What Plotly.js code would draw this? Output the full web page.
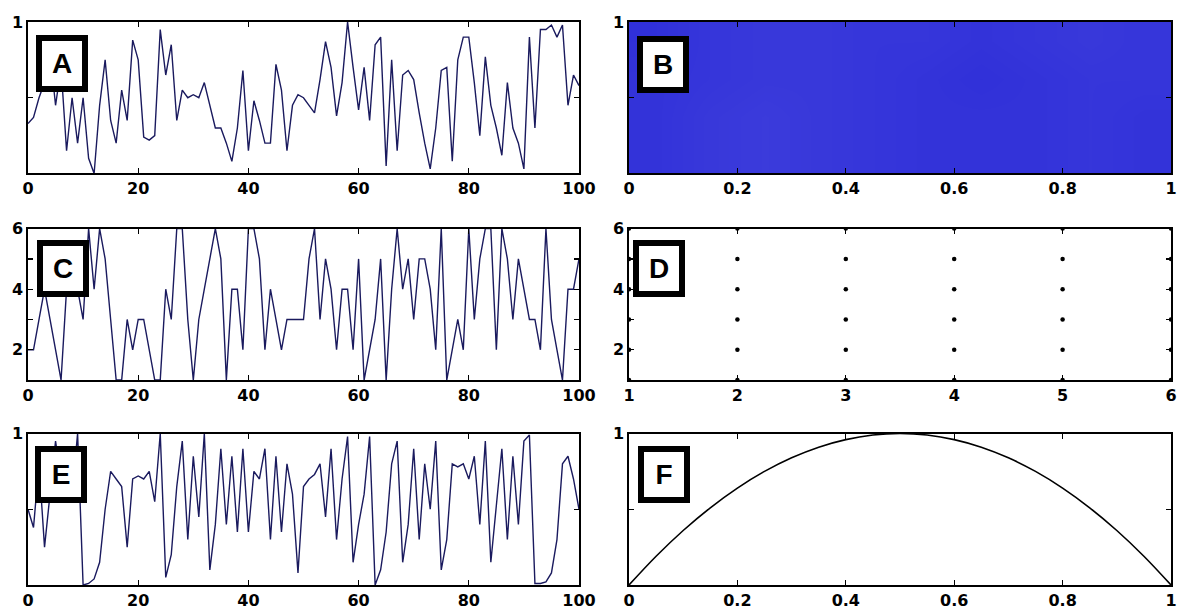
<!DOCTYPE html>
<html>
<head>
<meta charset="utf-8">
<script src="https://cdn.plot.ly/plotly-3.0.1.min.js"></script>
<style>
html, body { margin: 0; padding: 0; overflow: hidden; background: #ffffff; }
#chart { width: 1178px; height: 612px; }
</style>
</head>
<body>
<div id="chart"></div>
<script>
// ---------- DATA ----------
// Panel A: series, values 0..1, one value per step 0..100
const seriesA = [0.33,0.37,0.50,0.60,0.80,0.45,0.70,0.15,0.50,0.20,0.50,0.10,0.00,0.45,0.75,0.35,0.20,0.55,0.35,0.88,
  0.75,0.24,0.22,0.25,0.95,0.65,0.85,0.35,0.55,0.50,0.52,0.50,0.60,0.45,0.30,0.30,0.20,0.08,0.30,0.68,
  0.15,0.48,0.35,0.20,0.20,0.72,0.55,0.15,0.45,0.52,0.50,0.45,0.40,0.62,0.87,0.70,0.38,0.60,1.00,0.70,
  0.42,0.70,0.35,0.85,0.90,0.05,0.75,0.15,0.65,0.68,0.62,0.40,0.20,0.03,0.30,0.68,0.70,0.08,0.75,0.90,
  0.90,0.60,0.25,0.77,0.45,0.30,0.12,0.60,0.30,0.20,0.03,0.90,0.30,0.95,0.95,0.98,0.90,0.98,0.45,0.65,0.58];

// Panel C: integer series 1..6
const seriesC = [2,2,3,4,3,2,1,4,5,4,3,6,4,6,5,3,1,1,3,2,
  3,3,2,1,1,4,3,6,6,3,1,3,4,5,6,5,1,4,4,2,
  6,6,5,2,4,3,2,3,3,3,3,5,6,3,5,4,2,4,4,2,
  5,1,2,3,5,1,4,6,4,5,3,5,5,4,2,6,1,2,3,2,
  6,3,5,6,6,2,6,5,3,5,4,3,3,2,6,3,2,1,4,4,5];

// Panel E: series 0..1
const seriesE = [0.50,0.38,0.80,0.25,0.60,0.95,0.70,0.80,0.60,1.00,0.00,0.01,0.04,0.15,0.50,0.75,0.70,0.65,0.25,0.70,
  0.72,0.70,0.75,0.55,1.00,0.05,0.20,0.65,0.95,0.30,0.85,0.45,1.00,0.10,0.40,0.90,0.40,0.85,0.35,0.90,
  0.35,0.75,0.70,0.90,0.30,0.85,0.35,0.80,0.60,0.08,0.65,0.70,0.73,0.80,0.45,0.90,0.30,0.70,0.98,0.15,
  0.40,0.60,0.98,0.00,0.10,0.35,0.80,0.95,0.15,0.40,0.90,0.30,0.80,0.50,0.95,0.10,0.30,0.80,0.78,0.80,
  0.70,0.85,0.40,0.95,0.15,0.55,0.90,0.30,0.85,0.40,0.95,0.99,0.01,0.01,0.02,0.08,0.30,0.80,0.85,0.70,0.50];

// Panel B: dense cloud, drawn as estimated coverage of points per cell
const bCols = [0.05,0.15,0.25,0.35,0.45,0.55,0.65,0.75,0.85,0.95];
const bRows = [0.125,0.375,0.625,0.875];
const bCoverage = [
  [0.80,0.78,0.77,0.78,0.79,0.80,0.80,0.80,0.79,0.80],
  [0.80,0.78,0.77,0.78,0.79,0.80,0.80,0.80,0.79,0.80],
  [0.80,0.79,0.78,0.78,0.79,0.80,0.81,0.80,0.79,0.79],
  [0.81,0.79,0.78,0.78,0.79,0.79,0.80,0.79,0.78,0.79]
];

// Panel D: return-map points of the dice series
const dValues = [1,2,3,4,5,6];

// Panel F: parabola
const fX = [0,0.05,0.1,0.15,0.2,0.25,0.3,0.35,0.4,0.45,0.5,0.55,0.6,0.65,0.7,0.75,0.8,0.85,0.9,0.95,1];
const fY = [0,0.19,0.36,0.51,0.64,0.75,0.84,0.91,0.96,0.99,1,0.99,0.96,0.91,0.84,0.75,0.64,0.51,0.36,0.19,0];

// Tick labels
const timeTicks = [0,20,40,60,80,100];
const unitTicks = [0,0.2,0.4,0.6,0.8,1];
const unitTickText = ['0','0.2','0.4','0.6','0.8','1'];
const diceTicks = [1,2,3,4,5,6];
const diceYText = ['','2','','4','','6'];
const panelLetters = ['A','B','C','D','E','F'];

// ---------- BUILD ----------
const idx = (arr) => arr.map((_, i) => i);
const dX = [], dY = [];
dValues.forEach(a => dValues.forEach(b => { dX.push(a); dY.push(b); }));

const lineCol = '#1a1a5e';
const traces = [
  {type:'scatter', mode:'lines', x: idx(seriesA), y: seriesA, xaxis:'x', yaxis:'y',
   line:{color:lineCol, width:1.4}, hoverinfo:'skip'},
  {type:'heatmap', x: bCols, y: bRows, z: bCoverage, xaxis:'x2', yaxis:'y2',
   zmin:0, zmax:1, showscale:false, zsmooth:'best',
   colorscale:[[0,'#ffffff'],[1,'#0000d0']], hoverinfo:'skip'},
  {type:'scatter', mode:'lines', x: idx(seriesC), y: seriesC, xaxis:'x3', yaxis:'y3',
   line:{color:lineCol, width:1.4}, hoverinfo:'skip'},
  {type:'scatter', mode:'markers', x: dX, y: dY, xaxis:'x4', yaxis:'y4',
   marker:{color:'#000000', size:4.5}, hoverinfo:'skip'},
  {type:'scatter', mode:'lines', x: idx(seriesE), y: seriesE, xaxis:'x5', yaxis:'y5',
   line:{color:lineCol, width:1.4}, hoverinfo:'skip'},
  {type:'scatter', mode:'lines', x: fX, y: fY, xaxis:'x6', yaxis:'y6',
   line:{color:'#000000', width:1.6, shape:'spline'}, hoverinfo:'skip'}
];

const tickFont = {family:'DejaVu Sans', size:16, color:'#000000', weight:'bold'};
function axisBase(extra) {
  return Object.assign({
    showline:true, linecolor:'#000000', linewidth:1.6, mirror:'ticks',
    ticks:'inside', ticklen:5, tickwidth:1.2, tickcolor:'#000000',
    showgrid:false, zeroline:false, tickfont:tickFont, fixedrange:true,
    tickmode:'array'
  }, extra);
}

// geometry (figure pixels -> paper)
const FW = 1178;
const L = 28, T = 22, R = 7, B = 27;
const PW = FW - L - R, PH = 612 - T - B;
const px = (p) => (p - L) / PW;
const leftDom = [0, px(579)];
const rightDom = [px(629), 1];
const row1 = [0.731, 1], row2 = [0.364, 0.633], row3 = [0, 0.269];

const layout = {
  width: FW, height: 612,
  margin: {l: L, r: R, t: T, b: B},
  paper_bgcolor:'#ffffff', plot_bgcolor:'#ffffff', showlegend:false,
  xaxis:  axisBase({domain:leftDom, anchor:'y', range:[0,100], tickvals:timeTicks, ticktext:timeTicks.map(String)}),
  yaxis:  axisBase({domain:row1, anchor:'x', range:[0,1], tickvals:[0,0.5,1], ticktext:['','','1']}),
  xaxis2: axisBase({domain:rightDom, anchor:'y2', range:[0,1], tickvals:unitTicks, ticktext:unitTickText}),
  yaxis2: axisBase({domain:row1, anchor:'x2', range:[0,1], tickvals:[0,0.5,1], ticktext:['','','1']}),
  xaxis3: axisBase({domain:leftDom, anchor:'y3', range:[0,100], tickvals:timeTicks, ticktext:timeTicks.map(String)}),
  yaxis3: axisBase({domain:row2, anchor:'x3', range:[1,6], tickvals:diceTicks, ticktext:diceYText}),
  xaxis4: axisBase({domain:rightDom, anchor:'y4', range:[1,6], tickvals:diceTicks, ticktext:diceTicks.map(String)}),
  yaxis4: axisBase({domain:row2, anchor:'x4', range:[1,6], tickvals:diceTicks, ticktext:diceYText}),
  xaxis5: axisBase({domain:leftDom, anchor:'y5', range:[0,100], tickvals:timeTicks, ticktext:timeTicks.map(String)}),
  yaxis5: axisBase({domain:row3, anchor:'x5', range:[0,1], tickvals:[0,0.5,1], ticktext:['','','1']}),
  xaxis6: axisBase({domain:rightDom, anchor:'y6', range:[0,1], tickvals:unitTicks, ticktext:unitTickText}),
  yaxis6: axisBase({domain:row3, anchor:'x6', range:[0,1], tickvals:[0,0.5,1], ticktext:['','','1']}),
  annotations: []
};

// panel letter boxes (centre positions in figure pixels)
const boxCentres = [[61.5,64],[663,64.5],[63,268.5],[659,268],[61,474.5],[663.5,474.5]];
panelLetters.forEach((letter, i) => {
  const c = boxCentres[i];
  layout.annotations.push({
    text: letter, xref:'paper', yref:'paper',
    x: px(c[0]), y: (T + PH - c[1]) / PH,
    xanchor:'center', yanchor:'middle', showarrow:false,
    width:36, height:41, borderpad:2, borderwidth:6,
    bordercolor:'#000000', bgcolor:'#ffffff',
    font:{family:'Liberation Sans', size:28, color:'#000000', weight:'bold'}
  });
});

Plotly.newPlot('chart', traces, layout, {staticPlot:true, displayModeBar:false});
</script>
</body>
</html>
